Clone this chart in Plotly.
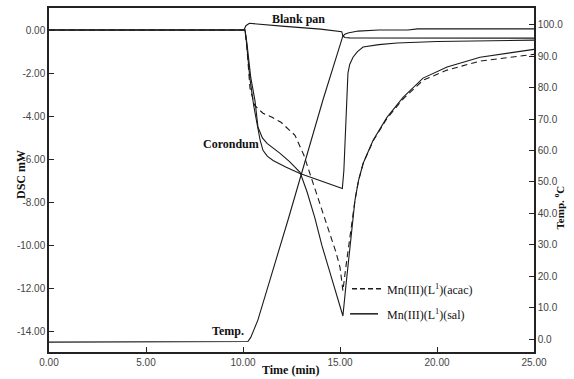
import plotly.graph_objects as go

# ---- data ----
blank_t = [0, 10.05, 10.15, 10.33, 12.0, 14.0, 15.09, 15.15, 15.25, 15.41, 15.93, 17.0, 18.5, 19.0, 25.0]
blank_mw = [0, 0, 0.2, 0.31, 0.18, 0.04, -0.08, -0.28, -0.2, -0.14, -0.05, 0.0, 0.0, 0.05, 0.05]

cor_t = [0, 10.1, 10.15, 10.35, 10.55, 10.72, 10.88, 11.03, 11.25, 11.55, 12.2, 12.94, 14.0, 15.12,
         15.2, 15.26, 15.35, 15.41, 15.5, 15.67, 15.9, 16.19, 17.0, 17.94, 20.0, 22.5, 25.0]
cor_mw = [0, 0, -0.3, -2.2, -3.5, -4.3, -5.1, -5.58, -5.85, -6.05, -6.35, -6.65, -7.0, -7.35,
          -6.5, -5.12, -3.0, -2.0, -1.6, -1.26, -1.0, -0.79, -0.68, -0.6, -0.53, -0.5, -0.47]

sal_t = [0, 10.1, 10.2, 10.4, 10.62, 10.77, 11.0, 11.24, 11.91, 12.4, 12.94, 13.3, 13.7, 14.07, 14.5,
         14.85, 15.15, 15.3, 15.45, 15.6, 15.77, 15.95, 16.19, 16.7, 17.42, 18.25, 19.28, 20.52,
         22.22, 25.0]
sal_mw = [0, 0, -0.6, -2.2, -3.3, -4.5, -5.0, -5.26, -5.72, -6.1, -6.6, -7.5, -8.7, -10.0, -11.3,
          -12.3, -13.26, -11.9, -10.6, -9.2, -7.9, -7.0, -6.19, -5.12, -4.05, -3.12, -2.23, -1.72,
          -1.26, -0.9]

acac_t = [0, 10.1, 10.2, 10.36, 10.6, 11.03, 11.5, 11.96, 12.68, 13.14, 13.5, 13.9, 14.35, 14.79,
          15.0, 15.15, 15.3, 15.45, 15.6, 15.77, 15.95, 16.19, 16.7, 17.42, 18.25, 19.28, 20.52,
          22.22, 25.0]
acac_mw = [0, 0, -0.8, -2.7, -3.5, -3.86, -4.05, -4.28, -4.88, -5.81, -6.8, -7.9, -9.2, -10.3,
           -11.0, -12.09, -11.0, -10.0, -9.0, -7.9, -7.0, -6.2, -5.15, -4.1, -3.2, -2.33, -1.86,
           -1.44, -1.13]

temp_t = [0, 10.15, 10.25, 10.4, 10.77, 12.32, 14.12, 15.15, 15.25, 15.5, 25.0]
temp_c = [-1.0, -1.0, -0.8, 0.5, 6.1, 37.9, 76.1, 96.5, 96.0, 95.9, 95.8]

x_ticks = [0, 5, 10, 15, 20, 25]
x_ticktext = ["0.00", "5.00", "10.00", "15.00", "20.00", "25.00"]
y_ticks = [0, -2, -4, -6, -8, -10, -12, -14]
y_ticktext = ["0.00", "-2.00", "-4.00", "-6.00", "-8.00", "-10.00", "-12.00", "-14.00"]
y2_ticks = [0, 10, 20, 30, 40, 50, 60, 70, 80, 90, 100]
y2_ticktext = ["0.0", "10.0", "20.0", "30.0", "40.0", "50.0", "60.0", "70.0", "80.0", "90.0", "100.0"]

LINE = "#1a1a1a"
fig = go.Figure()
fig.add_trace(go.Scatter(x=blank_t, y=blank_mw, mode="lines", line=dict(color=LINE, width=1.1)))
fig.add_trace(go.Scatter(x=cor_t, y=cor_mw, mode="lines", line=dict(color=LINE, width=1.1)))
fig.add_trace(go.Scatter(x=acac_t, y=acac_mw, mode="lines", line=dict(color=LINE, width=1.1, dash="6px,4px")))
fig.add_trace(go.Scatter(x=sal_t, y=sal_mw, mode="lines", line=dict(color=LINE, width=1.1)))
fig.add_trace(go.Scatter(x=temp_t, y=temp_c, mode="lines", yaxis="y2", line=dict(color=LINE, width=1.1)))

tickfont = dict(family="Liberation Sans, Arial", size=10, color="#444")
axcommon = dict(showgrid=False, zeroline=False, showline=True, linecolor="#222", linewidth=1.5,
                ticks="inside", ticklen=5, tickcolor="#222", tickfont=tickfont, automargin=False)

fig.update_layout(
    width=574, height=379,
    margin=dict(l=49, r=40, t=8, b=27),
    paper_bgcolor="white", plot_bgcolor="white",
    showlegend=False,
    xaxis=dict(range=[0, 25], tickvals=x_ticks, ticktext=x_ticktext, mirror=True, **axcommon),
    yaxis=dict(range=[-14.93, 1.02], tickvals=y_ticks, ticktext=y_ticktext, **axcommon),
    yaxis2=dict(range=[-4.14, 105.4], tickvals=y2_ticks, ticktext=y2_ticktext, overlaying="y",
                side="right", **axcommon),
)

serif_b = dict(family="Liberation Serif, Times New Roman", size=12, color="#111")
serif = dict(family="Liberation Serif, Times New Roman", size=12, color="#111")

ann = [
    dict(text="<b>Blank pan</b>", x=12.84, y=0.51, xref="x", yref="y", font=serif_b, showarrow=False),
    dict(text="<b>Corondum</b>", x=9.38, y=-5.3, xref="x", yref="y", font=serif_b, showarrow=False),
    dict(text="<b>Temp.</b>", x=9.23, y=-13.95, xref="x", yref="y", font=serif_b, showarrow=False),
    dict(text="Mn(III)(L<sup>1</sup>)(acac)", x=17.32, y=-12.05, xref="x", yref="y", font=serif,
         showarrow=False, xanchor="left"),
    dict(text="Mn(III)(L<sup>1</sup>)(sal)", x=17.32, y=-13.2, xref="x", yref="y", font=serif,
         showarrow=False, xanchor="left"),
    dict(text="<b>Time (min)</b>", x=0.497, y=-0.052, xref="paper", yref="paper", font=serif_b,
         showarrow=False, yanchor="middle"),
    dict(text="<b>DSC mW</b>", x=-0.076, y=0.515, xref="paper", yref="paper", font=serif_b,
         showarrow=False, textangle=-90),
    dict(text="<b>Temp. <sup>o</sup>C</b>", x=1.07, y=0.42, xref="paper", yref="paper",
         font=dict(family="Liberation Serif, Times New Roman", size=11, color="#111"),
         showarrow=False, textangle=-90),
]
fig.update_layout(annotations=ann)

fig.add_shape(type="line", x0=15.62, x1=17.16, y0=-12.0, y1=-12.0, xref="x", yref="y",
              line=dict(color=LINE, width=1.5, dash="5px,3px"))
fig.add_shape(type="line", x0=15.52, x1=16.96, y0=-13.16, y1=-13.16, xref="x", yref="y",
              line=dict(color=LINE, width=1.5))

fig.write_html("out.html", config={"displayModeBar": False},
               post_script="document.body.style.margin='0';document.body.style.overflow='hidden';")
